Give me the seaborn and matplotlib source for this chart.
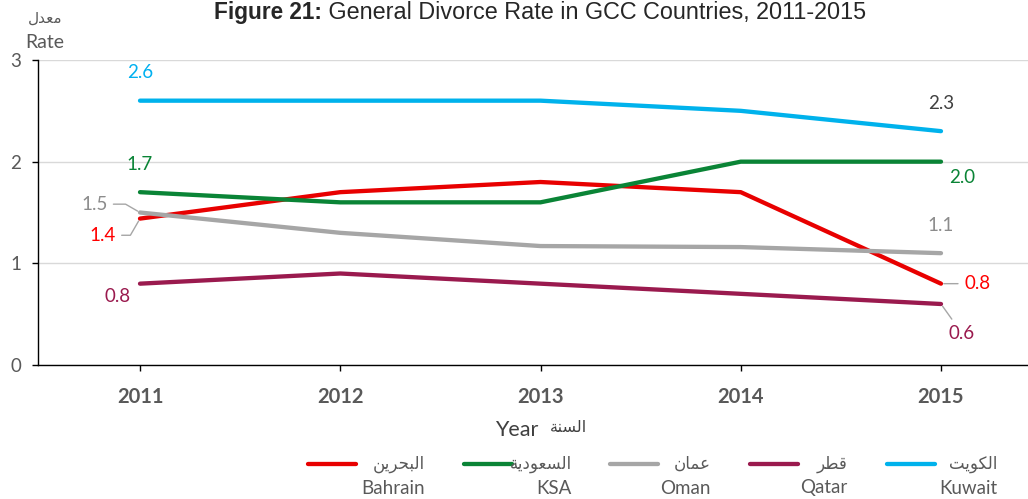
import pandas as pd
import matplotlib.pyplot as plt
from matplotlib.lines import Line2D
import seaborn as sns

# data
years = [2011, 2012, 2013, 2014, 2015]
bahrain = [1.44, 1.7, 1.8, 1.7, 0.8]
ksa = [1.7, 1.6, 1.6, 2.0, 2.0]
oman = [1.5, 1.3, 1.17, 1.16, 1.1]
qatar = [0.8, 0.9, 0.8, 0.7, 0.6]
kuwait = [2.6, 2.6, 2.6, 2.5, 2.3]

countries = ['Bahrain', 'KSA', 'Oman', 'Qatar', 'Kuwait']
# Arabic names, pre-shaped presentation forms in visual order
arabic_names = ['\uFEE6\uFEF3\uFEAE\uFEA4\uFE92\uFEDF\uFE8D',          # البحرين
                '\uFE94\uFEF3\uFEA9\uFEEE\uFECC\uFEB4\uFEDF\uFE8D',    # السعودية
                '\uFEE5\uFE8E\uFEE4\uFECB',                            # عمان
                '\uFEAE\uFEC4\uFED7',                                  # قطر
                '\uFE96\uFEF3\uFEEE\uFEDC\uFEDF\uFE8D']                # الكويت
ar_rate = '\uFEDD\uFEAA\uFECC\uFEE3'          # معدل
ar_year = '\uFE94\uFEE8\uFEB4\uFEDF\uFE8D'    # السنة

colors = {'Bahrain': '#E80000', 'KSA': '#0A8436', 'Oman': '#A6A6A6',
          'Qatar': '#9A1A4E', 'Kuwait': '#00B2EC'}

df = pd.DataFrame({
    'Year': years * 5,
    'Rate': bahrain + ksa + oman + qatar + kuwait,
    'Country': [c for c in countries for _ in years],
})

sns.set_theme(style='white')
plt.rcParams['font.family'] = ['Lato', 'DejaVu Sans']
grey_txt = '#595959'

fig = plt.figure(figsize=(10.28, 4.99), dpi=100)
ax = fig.add_axes([38 / 1028, 1 - 365 / 499, 1 - 38 / 1028, 305 / 499])

sns.lineplot(data=df, x='Year', y='Rate', hue='Country', hue_order=countries,
             palette=colors, linewidth=3.1, legend=False, sort=False,
             solid_capstyle='round', ax=ax)

ax.set_xlim(2011 - 102 / 200.25, 2011 + 888 / 200.25)
ax.set_ylim(0, 3)
ax.set_yticks([0, 1, 2, 3])
ax.set_xticks(years)
ax.set_xticklabels([str(y) for y in years], fontweight='bold', fontsize=14.5, color=grey_txt)
ax.set_yticklabels(['0', '1', '2', '3'], fontsize=13.5, color=grey_txt)
ax.yaxis.grid(True, color='#D9D9D9', linewidth=1)
ax.set_axisbelow(True)
for side in ['top', 'right']:
    ax.spines[side].set_visible(False)
for side in ['left', 'bottom']:
    ax.spines[side].set_color('black')
    ax.spines[side].set_linewidth(1)
ax.tick_params(axis='y', direction='out', length=4, width=1, color='black', pad=8, left=True)
ax.tick_params(axis='x', direction='out', length=4, width=1, color='black', pad=12, bottom=True)
ax.set_xlabel('')
ax.set_ylabel('')

# data labels
def label(x, y, txt, dx, dy, color, leader=None):
    kw = {}
    if leader is not None:
        kw['arrowprops'] = dict(arrowstyle='-', color='#A6A6A6', lw=1,
                                connectionstyle=leader, shrinkA=2, shrinkB=2)
    ax.annotate(txt, xy=(x, y), xytext=(dx, dy), textcoords='offset points',
                ha='center', va='center', fontsize=13.5, color=color, **kw)

label(2011, kuwait[0], '2.6', 0, 20, '#00B0F0')
label(2015, kuwait[4], '2.3', 0, 20, '#404040')
label(2011, ksa[0], '1.7', 0, 20, '#0A8436')
label(2015, ksa[4], '2.0', 15, -11.5, '#0A8436')
label(2011, oman[0], '1.5', -33, 6, '#8C8C8C', 'angle,angleA=0,angleB=-30,rad=0')
label(2015, oman[4], '1.1', 0, 20, '#8C8C8C')
label(2011, bahrain[0], '1.4', -27, -12, '#FF0000', 'angle,angleA=0,angleB=60,rad=0')
label(2015, bahrain[4], '0.8', 26, 0, '#FF0000', 'arc3')
label(2011, qatar[0], '0.8', -16, -9.5, '#9A1A4E')
label(2015, qatar[4], '0.6', 15, -21, '#9A1A4E', 'arc3')

# title
fig.text(322 / 1028, 1 - 19 / 499, 'Figure 21:', ha='right', va='baseline',
         fontsize=16.3, fontweight='bold', family='Liberation Sans')
fig.text(322 / 1028, 1 - 19 / 499, ' General Divorce Rate in GCC Countries, 2011-2015',
         ha='left', va='baseline', fontsize=16.8, family='Liberation Sans')

# axis titles
fig.text(45 / 1028, 1 - 18 / 499, ar_rate, ha='center', va='center', fontsize=11,
         color=grey_txt, family='DejaVu Sans')
fig.text(45 / 1028, 1 - 43 / 499, 'Rate', ha='center', va='center', fontsize=14,
         color=grey_txt)
fig.text(538 / 1028, 1 - 430 / 499, 'Year', ha='right', va='center', fontsize=15.5,
         color='#404040')
fig.text(550 / 1028, 1 - 427 / 499, ar_year, ha='left', va='center', fontsize=11.5,
         color='#404040', family='DejaVu Sans')

# legend
line_x = [308, 464, 610, 750, 887]
text_r = [425, 572, 711, 847, 997]
for c, ar, lx, tr in zip(countries, arabic_names, line_x, text_r):
    fig.add_artist(Line2D([lx / 1028, (lx + 48) / 1028], [1 - 464 / 499] * 2,
                          color=colors[c], linewidth=3.1, solid_capstyle='round'))
    fig.text(tr / 1028, 1 - 464 / 499, ar, ha='right', va='center', fontsize=12,
             color=grey_txt, family='DejaVu Sans')
    fig.text(tr / 1028, 1 - 488 / 499, c, ha='right', va='center', fontsize=13.5,
             color=grey_txt)

fig.savefig('out.png', dpi=100)
